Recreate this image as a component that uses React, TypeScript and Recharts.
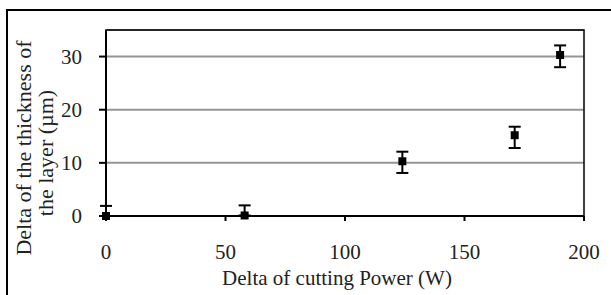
import {
  ScatterChart,
  Scatter,
  XAxis,
  YAxis,
  ZAxis,
  CartesianGrid,
  ErrorBar,
  ReferenceArea,
} from 'recharts'

// measured values (delta power in W, delta thickness in µm)
const powerDelta = [0, 58, 124, 171, 190]
const thicknessDelta = [0, 0.1, 10.3, 15.2, 30.3]
// [below, above]
const thicknessErr: [number, number][] = [
  [0, 1.9],
  [0, 1.9],
  [2.2, 1.8],
  [2.4, 1.6],
  [2.3, 1.8],
]

const xTicks = [0, 50, 100, 150, 200]
const yTicks = [0, 10, 20, 30]

const xTitle = 'Delta of cutting Power (W)'
const yTitleLines = ['Delta of the thickness of', 'the layer (µm)']

const data = powerDelta.map((p, i) => ({
  power: p,
  thickness: thicknessDelta[i],
  err: thicknessErr[i],
}))

const font = 'Liberation Serif'
const ink = '#222'

function XTick(props: any) {
  const { x, y, payload } = props
  return (
    <text x={x} y={y} dy="0.71em" textAnchor="middle" fontSize={21} fontFamily={font} fill={ink}>
      {payload.value}
    </text>
  )
}

function YTick(props: any) {
  const { x, y, payload } = props
  return (
    <text x={x} y={y} dy="0.34em" textAnchor="end" fontSize={21} fontFamily={font} fill={ink}>
      {payload.value}
    </text>
  )
}

function XTitle(props: any) {
  const vb = props.viewBox || { x: 106, y: 216, width: 478, height: 79 }
  return (
    <text
      x={vb.x + vb.width / 2 - 8}
      y={vb.y + vb.height - 10}
      textAnchor="middle"
      fontSize={21}
      fontFamily={font}
      fill={ink}
    >
      {xTitle}
    </text>
  )
}

function YTitle(props: any) {
  const vb = props.viewBox || { x: 0, y: 30, width: 106, height: 186 }
  const cy = vb.y + vb.height / 2
  const pos = [
    { x: vb.x + 31, y: cy + 25 },
    { x: vb.x + 52.5, y: cy + 30 },
  ]
  return (
    <g>
      {yTitleLines.map((line, i) => (
        <text
          key={i}
          x={pos[i].x}
          y={pos[i].y}
          transform={`rotate(-90 ${pos[i].x} ${pos[i].y})`}
          textAnchor="middle"
          fontSize={22}
          fontFamily={font}
          fill={ink}
        >
          {line}
        </text>
      ))}
    </g>
  )
}

export default function App() {
  return (
    <div
      style={{
        position: 'absolute',
        left: 0,
        top: 0,
        width: 611,
        height: 295,
        overflow: 'hidden',
        background: '#fff',
      }}
    >
      <div
        style={{
          position: 'absolute',
          left: 6,
          top: 9,
          width: 700,
          height: 400,
          border: '2px solid #000',
        }}
      />
      <div style={{ position: 'absolute', left: 0, top: 0 }}>
        <ScatterChart
          width={611}
          height={295}
          margin={{ top: 30, right: 27, bottom: 0, left: 0 }}
        >
          <CartesianGrid vertical={false} stroke="#959595" strokeWidth={2} />
          <XAxis
            type="number"
            dataKey="power"
            domain={[0, 200]}
            ticks={xTicks}
            height={79}
            tickSize={5}
            tickMargin={23}
            axisLine={{ stroke: '#000', strokeWidth: 2 }}
            tickLine={{ stroke: '#000', strokeWidth: 2 }}
            tick={<XTick />}
            label={{ content: <XTitle /> }}
          />
          <YAxis
            type="number"
            dataKey="thickness"
            domain={[0, 35]}
            ticks={yTicks}
            width={106}
            tickSize={7}
            tickMargin={17}
            axisLine={{ stroke: '#000', strokeWidth: 2 }}
            tickLine={{ stroke: '#000', strokeWidth: 2 }}
            tick={<YTick />}
            label={{ content: <YTitle /> }}
          />
          <ZAxis range={[70, 70]} />
          <ReferenceArea
            x1={0}
            x2={200}
            y1={0}
            y2={35}
            fill="none"
            stroke="#000"
            strokeWidth={1.5}
          />
          <Scatter
            data={data}
            fill="#000"
            shape="square"
            isAnimationActive={false}
          >
            <ErrorBar
              dataKey="err"
              direction="y"
              width={6}
              strokeWidth={2}
              stroke="#000"
              isAnimationActive={false}
            />
          </Scatter>
        </ScatterChart>
      </div>
    </div>
  )
}
